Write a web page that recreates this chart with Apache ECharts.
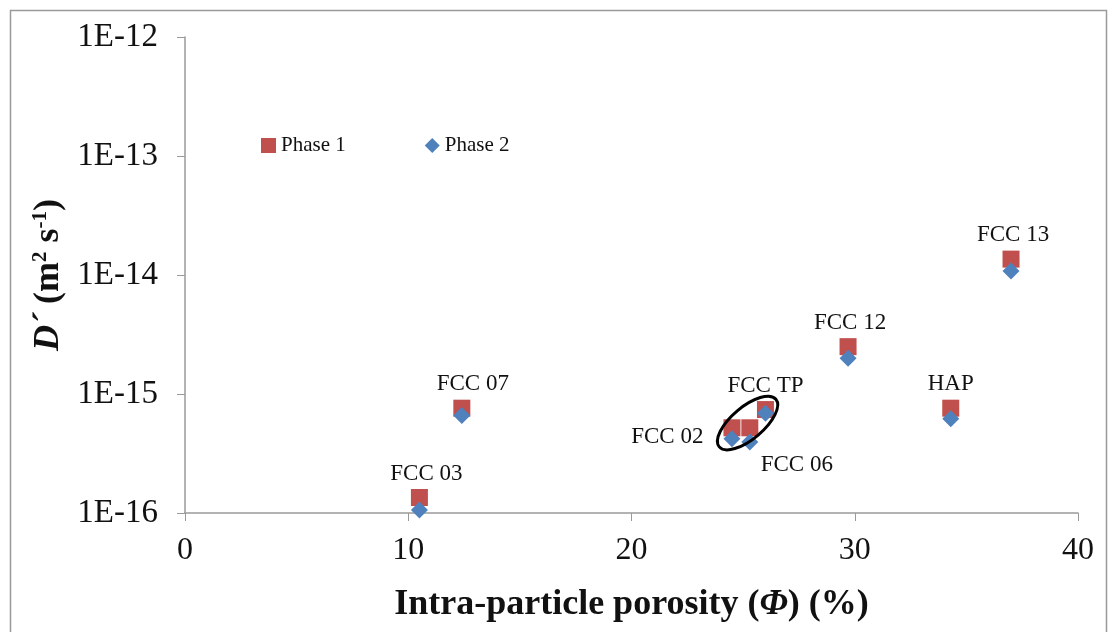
<!DOCTYPE html>
<html>
<head>
<meta charset="utf-8">
<script src="https://cdn.jsdelivr.net/npm/echarts@6/dist/echarts.min.js"></script>
<style>
  html, body { margin: 0; padding: 0; background: #fff; }
  #main { width: 1109px; height: 632px; }
</style>
</head>
<body>
<div id="main"></div>
<script>
// sample names and intra-particle porosity (%)
const samples = ['FCC 03', 'FCC 07', 'FCC 02', 'FCC 06', 'FCC TP', 'FCC 12', 'HAP', 'FCC 13'];
const porosity = [10.5, 12.4, 24.5, 25.3, 26.0, 29.7, 34.3, 37.0];
// D' (m2 s-1)
const phase1 = [1.35e-16, 7.6e-16, 5.2e-16, 5.2e-16, 7.4e-16, 2.5e-15, 7.6e-16, 1.36e-14];
const phase2 = [1.06e-16, 6.6e-16, 4.2e-16, 3.95e-16, 6.9e-16, 2.0e-15, 6.2e-16, 1.08e-14];
const xTicks = [0, 10, 20, 30, 40];
const yTicks = ['1E-12', '1E-13', '1E-14', '1E-15', '1E-16'];

const serif = 'Liberation Serif';

// where each sample label sits relative to its square
const labelPlace = {
  'FCC 03': { position: 'top', offset: [7, 1] },
  'FCC 07': { position: 'top', offset: [11, 1] },
  'FCC 02': { position: 'left', offset: [-15, 9] },
  'FCC 06': { position: 'bottom', offset: [47, 12] },
  'FCC TP': { position: 'top', offset: [0, 1] },
  'FCC 12': { position: 'top', offset: [2, 1] },
  'HAP': { position: 'top', offset: [0, 1] },
  'FCC 13': { position: 'top', offset: [2, 1] }
};

const chart = echarts.init(document.getElementById('main'));

const option = {
  animation: false,
  backgroundColor: '#fff',
  textStyle: { fontFamily: serif },
  grid: { left: 185, right: 31, top: 37, bottom: 119 },
  legend: {
    left: 256, top: 130,
    itemWidth: 15, itemHeight: 15, itemGap: 79,
    textStyle: { fontFamily: serif, fontSize: 21, color: '#111' },
    data: [
      { name: 'Phase 1', icon: 'rect' },
      { name: 'Phase 2', icon: 'diamond' }
    ]
  },
  xAxis: {
    type: 'value', min: xTicks[0], max: xTicks[xTicks.length - 1], interval: 10,
    axisLine: { lineStyle: { color: '#9a9a9a', width: 1.5 } },
    axisTick: { show: true, length: 8, lineStyle: { color: '#9a9a9a' } },
    splitLine: { show: false },
    axisLabel: { fontFamily: serif, fontSize: 32, color: '#111', margin: 22 },
    name: 'Intra-particle porosity ({i|Φ}) (%)',
    nameLocation: 'middle', nameGap: 74,
    nameTextStyle: {
      fontFamily: serif, fontSize: 36, fontWeight: 'bold', color: '#111',
      rich: { i: { fontFamily: serif, fontSize: 36, fontWeight: 'bold', fontStyle: 'italic', color: '#111' } }
    }
  },
  yAxis: {
    type: 'log', logBase: 10, min: 1e-16, max: 1e-12,
    axisLine: { show: true, lineStyle: { color: '#9a9a9a', width: 1.5 } },
    axisTick: { show: true, length: 8, lineStyle: { color: '#9a9a9a' } },
    splitLine: { show: false },
    axisLabel: {
      fontFamily: serif, fontSize: 33, color: '#111', margin: 27,
      formatter: v => '1E' + Math.round(Math.log10(v))
    },
    name: '{d|D´ }{b|(m}{s|2}{b| s}{s|-1}{b|)}',
    nameLocation: 'middle', nameGap: 116, nameRotate: 90,
    nameTextStyle: {
      color: '#111',
      rich: {
        d: { fontFamily: serif, fontSize: 36, fontWeight: 'bold', fontStyle: 'italic', color: '#111' },
        b: { fontFamily: serif, fontSize: 36, fontWeight: 'bold', color: '#111' },
        s: { fontFamily: serif, fontSize: 21, fontWeight: 'bold', color: '#111', verticalAlign: 'top' }
      }
    }
  },
  series: [
    {
      name: 'Phase 1', type: 'scatter', symbol: 'rect', symbolSize: 17,
      itemStyle: { color: '#C0504D', opacity: 1 },
      data: porosity.map((x, i) => ({
        value: [x, phase1[i]],
        name: samples[i],
        label: Object.assign({
          show: true, formatter: samples[i],
          fontFamily: serif, fontSize: 23, color: '#111', opacity: 1
        }, labelPlace[samples[i]])
      })),
      z: 2
    },
    {
      name: 'Phase 2', type: 'scatter', symbol: 'diamond', symbolSize: 17,
      itemStyle: { color: '#4F81BD', opacity: 1 },
      data: porosity.map((x, i) => [x, phase2[i]]),
      z: 3
    }
  ]
};

chart.setOption(option);

// ellipse round the FCC 02 / FCC 06 / FCC TP cluster
const c = chart.convertToPixel({ gridIndex: 0 }, [25.2, 5.7e-16]);
chart.setOption({
  graphic: [
    {
      type: 'rect', left: 8, top: 8, z: -10,
      shape: { width: 1096, height: 640 },
      style: { fill: 'none', stroke: '#9a9a9a', lineWidth: 1.5 },
      silent: true
    },
    {
      type: 'ellipse', x: c[0], y: c[1], rotation: 0.7, z: 10,
      shape: { cx: 0, cy: 0, rx: 37, ry: 16 },
      style: { fill: 'none', stroke: '#000', lineWidth: 3 },
      silent: true
    }
  ]
});
</script>
</body>
</html>
